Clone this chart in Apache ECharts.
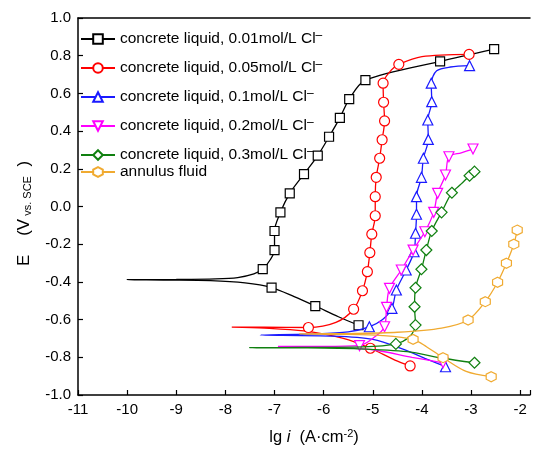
<!DOCTYPE html>
<html>
<head>
<meta charset="utf-8">
<script src="https://cdn.jsdelivr.net/npm/echarts@6/dist/echarts.min.js"></script>
<style>
  html, body { margin: 0; padding: 0; background: #fff; }
  #chart { width: 534px; height: 454px; }
</style>
</head>
<body>
<div id="chart"></div>
<script>
// [lg i, E, marker?]  points
const seriesNames = [
  'concrete liquid, 0.01mol/L Cl-',
  'concrete liquid, 0.05mol/L Cl-',
  'concrete liquid, 0.1mol/L Cl-',
  'concrete liquid, 0.2mol/L Cl-',
  'concrete liquid, 0.3mol/L Cl-',
  'annulus fluid'
];
const cl001 = [
  [-5.29,-0.63,1],[-5.7,-0.585,0],[-6.17,-0.528,1],[-6.6,-0.478,0],[-7.06,-0.43,1],[-7.6,-0.405,0],
  [-8.3,-0.393,0],[-9.2,-0.39,0],[-10,-0.388,0],[-9,-0.387,0],[-8.2,-0.384,0],[-7.75,-0.377,0],
  [-7.42,-0.358,0],[-7.24,-0.332,1],[-7.08,-0.28,0],[-7.0,-0.231,1],[-7.0,-0.13,1],[-6.88,-0.031,1],
  [-6.69,0.07,1],[-6.40,0.172,1],[-6.12,0.27,1],[-5.89,0.37,1],[-5.67,0.47,1],[-5.48,0.57,1],
  [-5.15,0.67,1],[-3.63,0.77,1],[-2.53,0.835,1]
];
const cl005 = [
  [-4.24,-0.846,1],[-4.55,-0.815,0],[-5.05,-0.752,1],[-5.6,-0.70,0],[-6.4,-0.66,0],[-7.2,-0.645,0],
  [-7.87,-0.64,0],[-7.2,-0.64,0],[-6.31,-0.642,1],[-5.75,-0.615,0],[-5.39,-0.545,1],[-5.21,-0.447,1],
  [-5.11,-0.346,1],[-5.06,-0.245,1],[-5.02,-0.147,1],[-4.95,-0.049,1],[-4.95,0.052,1],[-4.93,0.155,1],
  [-4.86,0.256,1],[-4.81,0.354,1],[-4.76,0.454,1],[-4.78,0.553,1],[-4.79,0.654,1],[-4.62,0.725,0],
  [-4.47,0.754,1],[-4.0,0.795,0],[-3.04,0.807,1]
];
const cl01 = [
  [-3.52,-0.85,1],[-3.9,-0.81,0],[-4.4,-0.755,0],[-5.0,-0.705,0],[-5.8,-0.688,0],[-7.29,-0.682,0],
  [-6.2,-0.676,0],[-5.5,-0.665,0],[-5.07,-0.638,1],[-4.8,-0.6,0],[-4.61,-0.54,1],[-4.52,-0.443,1],
  [-4.32,-0.337,1],[-4.16,-0.24,1],[-4.13,-0.142,1],[-4.11,-0.041,1],[-4.11,0.052,1],[-4.01,0.155,1],
  [-3.97,0.256,1],[-3.87,0.356,1],[-3.88,0.459,1],[-3.80,0.556,1],[-3.81,0.654,1],[-3.70,0.72,0],
  [-3.42,0.74,0],[-3.03,0.747,1]
];
const cl02 = [
  [-3.57,-0.829,1],[-4.2,-0.8,0],[-5.0,-0.76,0],[-6.0,-0.745,0],[-6.93,-0.742,0],[-6.0,-0.742,0],
  [-5.27,-0.738,1],[-4.95,-0.69,0],[-4.76,-0.638,1],[-4.72,-0.535,1],[-4.66,-0.434,1],[-4.42,-0.337,1],
  [-4.18,-0.231,1],[-3.94,-0.134,1],[-3.76,-0.031,1],[-3.68,0.07,1],[-3.52,0.167,1],[-3.45,0.264,1],
  [-3.2,0.285,0],[-2.96,0.305,1]
];
const cl03 = [
  [-2.93,-0.829,1],[-3.57,-0.805,0],[-4.3,-0.77,0],[-5.3,-0.755,0],[-6.5,-0.75,0],[-7.51,-0.749,0],
  [-6.5,-0.748,0],[-5.2,-0.745,0],[-4.53,-0.729,1],[-4.25,-0.69,0],[-4.13,-0.629,1],[-4.15,-0.532,1],
  [-4.13,-0.431,1],[-4.01,-0.333,1],[-3.91,-0.231,1],[-3.80,-0.13,1],[-3.60,-0.031,1],[-3.39,0.073,1],
  [-3.2,0.12,0],[-3.03,0.163,1],[-2.93,0.185,1]
];
const annulus = [
  [-2.59,-0.903,1],[-3.1,-0.875,0],[-3.57,-0.802,1],[-3.9,-0.745,0],[-4.18,-0.705,1],[-4.8,-0.685,0],
  [-5.6,-0.678,0],[-6.49,-0.676,0],[-5.5,-0.674,0],[-4.5,-0.667,0],[-3.6,-0.645,0],[-3.06,-0.602,1],
  [-2.71,-0.505,1],[-2.46,-0.402,1],[-2.28,-0.301,1],[-2.13,-0.2,1],[-2.06,-0.125,1]
];
const xTicks = [-11, -10, -9, -8, -7, -6, -5, -4, -3, -2];

const colors = ['#000000', '#ff0000', '#1a1aff', '#ff00ff', '#108010', '#f0aa30'];
const symbols = ['rect', 'circle', 'triangle', 'triangle', 'diamond',
  'path://M50,0 L93,25 L93,75 L50,100 L7,75 L7,25 Z'];
const sizes = [9, 10, 10, 10, 11, 10];
const rotates = [0, 0, 0, 180, 0, 0];
const allData = [cl001, cl005, cl01, cl02, cl03, annulus];

const toData = arr => arr.map(p => p[2] ? [p[0], p[1]] : { value: [p[0], p[1]], symbol: 'none' });

const font = "'Liberation Sans', Arial, sans-serif";

const series = allData.map((arr, i) => ({
  name: seriesNames[i],
  type: 'line',
  xAxisIndex: 0,
  data: toData(arr),
  smooth: 0.3,
  showAllSymbol: true,
  symbol: symbols[i],
  symbolSize: sizes[i],
  symbolRotate: rotates[i],
  lineStyle: { color: colors[i], width: 1.3 },
  itemStyle: { color: '#fff', borderColor: colors[i], borderWidth: 1.2 },
  z: 2 + i
}));

const legendText = {
  fontFamily: font, fontSize: 15.5, color: '#000',
  rich: {
    t: { fontFamily: font, fontSize: 15.5, lineHeight: 18, color: '#000' },
    s: { fontFamily: font, fontSize: 12, lineHeight: 18, color: '#000', verticalAlign: 'top', padding: [0, 0, 7, 0] }
  }
};
const legendFmt = name => name.endsWith('Cl-') ? '{t|' + name.slice(0, -1) + '}{s|\u2013}' : '{t|' + name + '}';

const chart = echarts.init(document.getElementById('chart'), null, { renderer: 'canvas' });
chart.setOption({
  animation: false,
  backgroundColor: '#fff',
  grid: { left: 78, right: 4, top: 18, bottom: 59 },
  legend: [
    {
      data: seriesNames.slice(0, 5),
      orient: 'vertical', left: 80, top: 30, padding: 0,
      itemWidth: 34, itemHeight: 12, itemGap: 10,
      textStyle: legendText, formatter: legendFmt
    },
    {
      data: seriesNames.slice(5),
      orient: 'vertical', left: 80, top: 164, padding: 0,
      itemWidth: 34, itemHeight: 12,
      textStyle: legendText, formatter: legendFmt
    }
  ],
  xAxis: [
    {
      type: 'value', min: xTicks[0], max: -1.8, interval: 1,
      name: '{p| }{a|lg }{i|i}{a|  (A\u00b7cm}{s|-2}{a|)}',
      nameLocation: 'middle', nameGap: 33,
      nameTextStyle: {
        rich: {
          p: { width: 20 },
          a: { fontFamily: font, fontSize: 16.5, color: '#000' },
          i: { fontFamily: font, fontSize: 16.5, fontStyle: 'italic', color: '#000' },
          s: { fontFamily: font, fontSize: 11, color: '#000', verticalAlign: 'top', padding: [0, 0, 8, 0] }
        }
      },
      axisLine: { onZero: false, lineStyle: { color: '#000', width: 1.5 } },
      axisTick: { inside: true, length: 5, lineStyle: { color: '#000', width: 1.2 } },
      axisLabel: {
        fontFamily: font, fontSize: 15, color: '#000', margin: 7,
        formatter: v => xTicks.includes(Math.round(v)) && Math.abs(v - Math.round(v)) < 1e-6 ? String(Math.round(v)) : ''
      },
      splitLine: { show: false }
    },
    {
      type: 'value', position: 'top', min: xTicks[0], max: -1.8,
      axisLine: { show: true, onZero: false, lineStyle: { color: '#000', width: 1.5 } },
      axisTick: { show: false }, axisLabel: { show: false }, splitLine: { show: false }
    }
  ],
  yAxis: {
    type: 'value', min: -1, max: 1, interval: 0.2,
    name: '{a|E    (V}{s| vs. SCE}{a|  )}{p| }',
    nameLocation: 'middle', nameRotate: 90, nameGap: 45,
    nameTextStyle: {
      rich: {
        p: { width: 14 },
        a: { fontFamily: font, fontSize: 17, color: '#000' },
        s: { fontFamily: font, fontSize: 11, color: '#000', verticalAlign: 'bottom', padding: [7, 0, 0, 0] }
      }
    },
    axisLine: { show: true, onZero: false, lineStyle: { color: '#000', width: 1.5 } },
    axisTick: { inside: true, length: 5, lineStyle: { color: '#000', width: 1.2 } },
    axisLabel: { fontFamily: font, fontSize: 15, color: '#000', margin: 7, formatter: v => v.toFixed(1) },
    splitLine: { show: false }
  },
  series: series
});
</script>
</body>
</html>
